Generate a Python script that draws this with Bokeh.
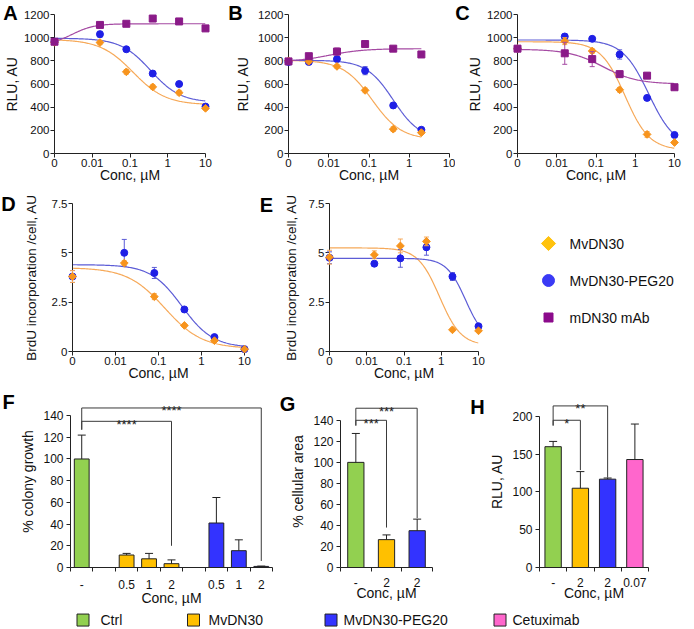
import math
import numpy as np
from bokeh.plotting import figure
from bokeh.layouts import column, row
from bokeh.models import ColumnDataSource, Range1d, FixedTicker
from bokeh.embed import file_html
from bokeh.resources import INLINE
from bokeh.core.properties import value

FONT = "Liberation Sans"

# ---------------- data ----------------
conc_tick_values = [0, 0.01, 0.1, 1, 10]
conc_tick_labels = ["0", "0.01", "0.1", "1", "10"]
series_names = ["MvDN30", "MvDN30-PEG20", "mDN30 mAb"]

# fit parameters: [response at 0, response at infinity, EC50 (uM), Hill slope]
A_conc = [0, 0.016, 0.08, 0.4, 2, 10]
A_mv = [960, 958, 705, 575, 525, 390]
A_mv_err = [12, 18, 20, 18, 20, 15]
A_peg = [965, 1030, 900, 690, 600, 405]
A_peg_err = [12, 25, 15, 20, 15, 12]
A_mab = [965, 1110, 1120, 1165, 1140, 1080]
A_mab_err = [10, 15, 12, 15, 12, 15]
A_fit_mv = [985, 420, 0.12, 1.0]
A_fit_peg = [995, 440, 0.35, 1.1]
A_fit_mab = [940, 1120, 0.003, 1.5]

B_conc = [0, 0.0032, 0.016, 0.08, 0.4, 2]
B_mv = [800, 795, 752, 545, 210, 180]
B_mv_err = [12, 12, 15, 20, 20, 15]
B_peg = [790, 790, 815, 715, 415, 205]
B_peg_err = [12, 12, 20, 35, 20, 15]
B_mab = [795, 840, 880, 945, 905, 855]
B_mab_err = [12, 15, 30, 15, 15, 15]
B_fit_mv = [805, 120, 0.12, 1.2]
B_fit_peg = [805, 120, 0.4, 1.3]
B_fit_mab = [790, 905, 0.01, 1.0]

C_conc = [0, 0.016, 0.08, 0.4, 2, 10]
C_mv = [905, 970, 885, 550, 165, 95]
C_mv_err = [15, 30, 20, 20, 25, 12]
C_peg = [905, 1010, 990, 855, 480, 160]
C_peg_err = [15, 20, 15, 40, 20, 15]
C_mab = [905, 865, 815, 685, 672, 572]
C_mab_err = [15, 95, 65, 25, 20, 15]
C_fit_mv = [965, 30, 0.55, 1.4]
C_fit_peg = [980, 50, 2.2, 1.3]
C_fit_mab = [900, 600, 0.15, 1.0]

D_conc = [0, 0.016, 0.08, 0.4, 2, 10]
D_mv = [3.8, 4.48, 2.78, 1.32, 0.55, 0.12]
D_mv_err = [0.3, 0.12, 0.15, 0.08, 0.06, 0.05]
D_peg = [3.8, 5.0, 3.98, 2.13, 0.73, 0.12]
D_peg_err = [0.3, 0.68, 0.28, 0.1, 0.08, 0.05]
D_fit_mv = [4.25, 0.15, 0.14, 1.0]
D_fit_peg = [4.4, 0.2, 0.35, 1.2]

E_conc = [0, 0.016, 0.08, 0.4, 2, 10]
E_mv = [4.78, 4.9, 5.35, 5.58, 1.1, 1.05]
E_mv_err = [0.35, 0.2, 0.35, 0.22, 0.08, 0.06]
E_peg = [4.75, 4.45, 4.72, 5.28, 3.8, 1.28]
E_peg_err = [0.3, 0.08, 0.45, 0.4, 0.2, 0.08]
E_fit_mv = [5.25, 0.3, 0.9, 1.5]
E_fit_peg = [4.72, 0.5, 4.5, 1.7]

rlu_ticks = [0, 200, 400, 600, 800, 1000, 1200]
rlu_tick_labels = ["0", "200", "400", "600", "800", "1000", "1200"]
brdu_ticks = [0, 2.5, 5, 7.5]
brdu_tick_labels = ["0", "2.5", "5", "7.5"]

group_names = ["Ctrl", "MvDN30", "MvDN30-PEG20", "Cetuximab"]

F_labels = ["-", "", "0.5", "1", "2", "", "0.5", "1", "2"]
F_groups = ["Ctrl", None, "MvDN30", "MvDN30", "MvDN30", None,
            "MvDN30-PEG20", "MvDN30-PEG20", "MvDN30-PEG20"]
F_values = [100, None, 11.5, 8, 3.5, None, 41, 15.5, 1]
F_err = [22, None, 1.5, 5, 3.5, None, 23.5, 10, 0.3]
F_sig_left = [0, 0]
F_sig_right = [4, 8]
F_sig_top = [134.7, 147]
F_sig_left_low = [127, 127]
F_sig_right_low = [20, 6]
F_sig_text = ["****", "****"]

G_labels = ["-", "2", "2"]
G_groups = ["Ctrl", "MvDN30", "MvDN30-PEG20"]
G_values = [100, 26.5, 35]
G_err = [27.5, 4.5, 11]
G_sig_left = [0, 0]
G_sig_right = [1, 2]
G_sig_top = [140, 151.5]
G_sig_left_low = [135, 135]
G_sig_right_low = [38, 47]
G_sig_text = ["***", "***"]

H_labels = ["-", "2", "2", "0.07"]
H_groups = ["Ctrl", "MvDN30", "MvDN30-PEG20", "Cetuximab"]
H_values = [160, 105, 117, 143]
H_err = [7, 22, 1.5, 47]
H_sig_left = [0, 0]
H_sig_right = [1, 2]
H_sig_top = [195, 214]
H_sig_left_low = [188, 188]
H_sig_right_low = [129, 119]
H_sig_text = ["*", "**"]

# ---------------- styles ----------------
STYLE = {
    "MvDN30": dict(marker="square", angle=math.pi / 4, size=5.5, color="#f7941d", curve="#f6a959"),
    "MvDN30-PEG20": dict(marker="circle", angle=0.0, size=7, color="#1f1fe6", curve="#5c5cd6"),
    "mDN30 mAb": dict(marker="square", angle=0.0, size=7, color="#8a1a88", curve="#a54aa3"),
}
LEGEND_STYLE = {
    "MvDN30": dict(marker="square", angle=math.pi / 4, size=10, color="#ffc20e"),
    "MvDN30-PEG20": dict(marker="circle", angle=0.0, size=12, color="#3a3af5"),
    "mDN30 mAb": dict(marker="square", angle=0.0, size=9, color="#8b0a8b"),
}
GROUP_COLORS = {"Ctrl": "#92d050", "MvDN30": "#ffc000",
                "MvDN30-PEG20": "#3333ff", "Cetuximab": "#ff66cc"}
AX = "#222222"
TXT = "#111111"


def to_pos(c):
    return [math.log10(v) if v > 0 else -3.0 for v in c]


def fit_curve(params, cmax):
    y0, yinf, ec50, hill = params
    px = np.linspace(-3, math.log10(cmax), 160)
    c = 10 ** px
    y = yinf + (y0 - yinf) / (1 + (c / ec50) ** hill)
    return px, y


def make_fig(w, h, bl, br, bt, bb, xr, yr, axes=True):
    kw = {} if axes else dict(x_axis_type=None, y_axis_type=None)
    p = figure(width=w, height=h, x_range=xr, y_range=yr, output_backend="svg",
               toolbar_location=None, min_border_left=bl, min_border_right=br,
               min_border_top=bt, min_border_bottom=bb, **kw)
    p.title.visible = False
    p.outline_line_color = None
    p.grid.visible = False
    p.background_fill_color = "white"
    p.border_fill_color = "white"
    return p


def style_axis(ax, tick_font, label_font="14px"):
    ax.axis_line_color = AX
    ax.major_tick_line_color = AX
    ax.major_tick_out = 4
    ax.major_tick_in = 0
    ax.minor_tick_line_color = None
    ax.major_label_text_font = FONT
    ax.major_label_text_font_size = tick_font
    ax.major_label_text_color = TXT
    ax.axis_label_text_font = FONT
    ax.axis_label_text_font_size = label_font
    ax.axis_label_text_font_style = "normal"
    ax.axis_label_text_color = TXT


def add_letter(p, letter, x0, y0, dx, dy):
    # panel letter anchored at a frame corner, shifted by pixel offsets
    p.text(x=[x0], y=[y0], text=[letter], x_offset=dx, y_offset=-dy,
           text_font=value(FONT), text_font_size="20px", text_font_style="bold",
           text_align="center", text_baseline="middle", text_color="#000000",
           level="overlay")


def dose_panel(geom, ymax, yticks, ytlabels, ylabel, conc, series, letter, ldx, ldy,
               ylab_standoff, tick_font, ylab_font="14px"):
    w, h, bl, br, bt, bb = geom
    p = make_fig(w, h, bl, br, bt, bb, Range1d(-3, 1), Range1d(0, ymax))
    xt = to_pos(conc_tick_values)
    p.xaxis.ticker = FixedTicker(ticks=xt)
    p.xaxis.major_label_overrides = {t: s for t, s in zip(xt, conc_tick_labels)}
    p.yaxis.ticker = FixedTicker(ticks=yticks)
    p.yaxis.major_label_overrides = {t: s for t, s in zip(yticks, ytlabels)}
    style_axis(p.xaxis[0], tick_font)
    style_axis(p.yaxis[0], tick_font, ylab_font)
    p.xaxis.axis_label = "Conc, µM"
    p.yaxis.axis_label = ylabel
    p.xaxis.major_label_standoff = 1
    p.xaxis.axis_label_standoff = -3
    p.yaxis.major_label_standoff = 1
    p.yaxis.axis_label_standoff = ylab_standoff
    x = to_pos(conc)
    cmax = max(conc)
    for name, vals, errs, fit in series:
        px, py = fit_curve(fit, cmax)
        p.line(px, py, line_color=STYLE[name]["curve"], line_width=1.2)
    order = ["MvDN30-PEG20", "MvDN30", "mDN30 mAb"]
    for nm in order:
        for name, vals, errs, fit in series:
            if name != nm:
                continue
            st = STYLE[name]
            lo = [v - e for v, e in zip(vals, errs)]
            hi = [v + e for v, e in zip(vals, errs)]
            p.segment(x0=x, y0=lo, x1=x, y1=hi, line_color=st["curve"], line_width=1, level="overlay")
            p.scatter(x=x + x, y=lo + hi, marker="dash", size=5, line_color=st["curve"],
                      line_width=1, level="overlay")
            p.scatter(x=x, y=vals, marker=st["marker"], angle=st["angle"], size=st["size"],
                      fill_color=st["color"], line_color=st["color"], level="overlay")
    add_letter(p, letter, -3, ymax, ldx, ldy)
    return p


def bar_panel(geom, labels, groups, values, errs, ymax, axis_top, ystep, ylabel,
              sig, letter, ldx, ly, bar_w):
    w, h, bl, br, bt, bb = geom
    n = len(labels)
    p = make_fig(w, h, bl, br, bt, bb, Range1d(-0.5, n - 0.5), Range1d(0, ymax))
    idx = [i for i in range(n) if values[i] is not None]
    src = ColumnDataSource(dict(
        x=idx,
        top=[values[i] for i in idx],
        etop=[values[i] + errs[i] for i in idx],
        color=[GROUP_COLORS[groups[i]] for i in idx],
    ))
    p.vbar(x="x", top="top", width=bar_w, fill_color="color", line_color=AX,
           line_width=1, source=src)
    p.segment(x0="x", y0="top", x1="x", y1="etop", line_color=AX, line_width=1, source=src)
    p.scatter(x="x", y="etop", marker="dash", size=8, line_color=AX, line_width=1, source=src)
    left, right, top, llow, rlow, stars = sig
    xs = [[a, a, b, b] for a, b in zip(left, right)]
    ys = [[c, t, t, d] for c, t, d in zip(llow, top, rlow)]
    p.multi_line(xs=xs, ys=ys, line_color="#3a3a3a", line_width=1, level="overlay")
    p.text(x=[(a + b) / 2 for a, b in zip(left, right)], y=top, text=stars,
           text_font=value(FONT), text_font_size="13px", text_align="center",
           text_baseline="alphabetic", y_offset=3, text_color="#222222", level="overlay")
    style_axis(p.xaxis[0], "12px")
    style_axis(p.yaxis[0], "12px")
    p.yaxis.ticker = FixedTicker(ticks=list(range(0, axis_top + 1, ystep)))
    p.yaxis.bounds = (0, axis_top)
    p.yaxis.major_label_standoff = 3
    p.yaxis.axis_label_standoff = 4
    p.yaxis.axis_label = ylabel
    p.xaxis.ticker = FixedTicker(ticks=list(range(n)),
                                 minor_ticks=[i - 0.5 for i in range(n + 1)])
    p.xaxis.major_label_overrides = {i: (labels[i] if labels[i] else " ") for i in range(n)}
    p.xaxis.major_tick_out = 0
    p.xaxis.minor_tick_out = 4
    p.xaxis.minor_tick_in = 0
    p.xaxis.minor_tick_line_color = AX
    p.xaxis.major_label_standoff = 6
    p.xaxis.axis_label_standoff = -5
    p.xaxis.axis_label = "Conc, µM"
    add_letter(p, letter, -0.5, 0, ldx, ly)
    return p


# ---------------- row 1 ----------------
pA = dose_panel((226, 190, 54, 21, 14, 37), 1200, rlu_ticks, rlu_tick_labels, "RLU, AU", A_conc,
                [("MvDN30", A_mv, A_mv_err, A_fit_mv),
                 ("MvDN30-PEG20", A_peg, A_peg_err, A_fit_peg),
                 ("mDN30 mAb", A_mab, A_mab_err, A_fit_mab)],
                "A", -44, 2, 1, "11.5px")
pB = dose_panel((229, 190, 62, 6, 14, 37), 1200, rlu_ticks, rlu_tick_labels, "RLU, AU", B_conc,
                [("MvDN30", B_mv, B_mv_err, B_fit_mv),
                 ("MvDN30-PEG20", B_peg, B_peg_err, B_fit_peg),
                 ("mDN30 mAb", B_mab, B_mab_err, B_fit_mab)],
                "B", -53, 2, 4, "11.5px")
pC = dose_panel((239, 190, 62, 20, 14, 37), 1200, rlu_ticks, rlu_tick_labels, "RLU, AU", C_conc,
                [("MvDN30", C_mv, C_mv_err, C_fit_mv),
                 ("MvDN30-PEG20", C_peg, C_peg_err, C_fit_peg),
                 ("mDN30 mAb", C_mab, C_mab_err, C_fit_mab)],
                "C", -55, 2, 1, "11.5px")

# ---------------- row 2 ----------------
R2_TOP, R2_BOT = 13, 37
pD = dose_panel((256, 198, 72, 12, R2_TOP, R2_BOT), 7.5, brdu_ticks, brdu_tick_labels,
                "BrdU incorporation /cell, AU", D_conc,
                [("MvDN30", D_mv, D_mv_err, D_fit_mv),
                 ("MvDN30-PEG20", D_peg, D_peg_err, D_fit_peg)],
                "D", -64, 0, 10, "11.5px", "13.5px")
pE = dose_panel((244, 198, 73, 22, R2_TOP, R2_BOT), 7.5, brdu_ticks, brdu_tick_labels,
                "BrdU incorporation /cell, AU", E_conc,
                [("MvDN30", E_mv, E_mv_err, E_fit_mv),
                 ("MvDN30-PEG20", E_peg, E_peg_err, E_fit_peg)],
                "E", -63, -1, 7, "11.5px", "13.5px")

# legend (middle right): items placed at y = -index, one unit = L_SPACING px
LW, LH = 194, 198
FH = LH - R2_TOP - R2_BOT          # frame height (aligned with the row's frames)
L_SPACING = 37.0
L_TOP = 53.0 - R2_TOP              # first item, px below the frame top
pL = make_fig(LW, LH, 0, 0, R2_TOP, R2_BOT, Range1d(0, LW),
              Range1d(-(FH - L_TOP) / L_SPACING, L_TOP / L_SPACING), axes=False)
lsrc = ColumnDataSource(dict(
    y=[-i for i in range(len(series_names))],
    name=series_names,
    marker=[LEGEND_STYLE[s]["marker"] for s in series_names],
    angle=[LEGEND_STYLE[s]["angle"] for s in series_names],
    size=[LEGEND_STYLE[s]["size"] for s in series_names],
    color=[LEGEND_STYLE[s]["color"] for s in series_names],
))
pL.scatter(x=48, y="y", marker="marker", angle="angle", size="size",
           fill_color="color", line_color="color", source=lsrc, level="overlay")
pL.text(x=69, y="y", text="name", text_font=value(FONT), text_font_size="14px",
        text_baseline="middle", text_align="left", text_color=TXT, source=lsrc,
        level="overlay")

# ---------------- row 3 ----------------
pF = bar_panel((278, 220, 70, 6, 7, 33), F_labels, F_groups, F_values, F_err,
               158.5, 140, 20, "% colony growth",
               (F_sig_left, F_sig_right, F_sig_top, F_sig_left_low, F_sig_right_low, F_sig_text),
               "F", -62, 166, 0.66)
pG = bar_panel((190, 220, 62, 36, 7, 33), G_labels, G_groups, G_values, G_err,
               163.6, 140, 20, "% cellular area",
               (G_sig_left, G_sig_right, G_sig_top, G_sig_left_low, G_sig_right_low, G_sig_text),
               "G", -53, 164, 0.53)
pH = bar_panel((226, 220, 71, 46, 7, 33), H_labels, H_groups, H_values, H_err,
               227.8, 200, 50, "RLU, AU",
               (H_sig_left, H_sig_right, H_sig_top, H_sig_left_low, H_sig_right_low, H_sig_text),
               "H", -62, 161, 0.6)

# ---------------- bottom legend ----------------
BW, BH = 694, 21
pK = make_fig(BW, BH, 0, 0, 0, 0, Range1d(0, BW), Range1d(0, 1), axes=False)
box_x = [82.5, 193, 330.5, 499.5]
text_x = [100, 208, 343, 512]
ksrc = ColumnDataSource(dict(
    bx=box_x, tx=text_x, y=[0.45] * len(group_names), name=group_names,
    color=[GROUP_COLORS[g] for g in group_names],
))
pK.scatter(x="bx", y="y", marker="square", size=12, fill_color="color", line_color=AX,
           line_width=1, source=ksrc)
pK.text(x="tx", y="y", text="name", text_font=value(FONT), text_font_size="14px",
        text_baseline="middle", text_align="left", text_color=TXT, source=ksrc)

layout = column(row(pA, pB, pC), row(pD, pE, pL), row(pF, pG, pH), pK)

open("out.html", "w").write(file_html(layout, INLINE))
